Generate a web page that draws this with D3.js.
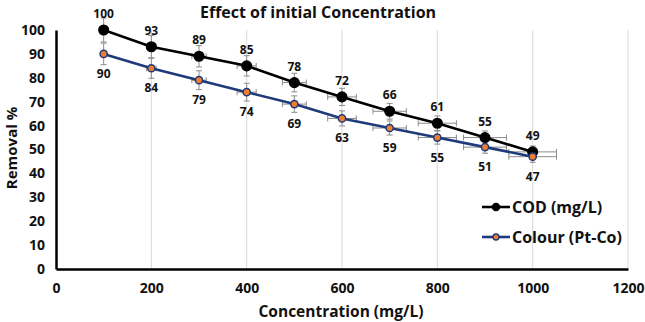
<!DOCTYPE html>
<html><head><meta charset="utf-8">
<script src="https://cdn.jsdelivr.net/npm/d3@7/dist/d3.min.js"></script>
<style>body{margin:0;background:#fff}svg{display:block}text{font-family:"Open Sans",sans-serif;font-weight:bold;fill:#111}</style>
</head><body>
<script>
const concentration = [100,200,300,400,500,600,700,800,900,1000];
const codRemoval = [100,93,89,85,78,72,66,61,55,49];
const colourRemoval = [90,84,79,74,69,63,59,55,51,47];
const seriesNames = ["COD (mg/L)","Colour (Pt-Co)"];
const xTicks = [0,200,400,600,800,1000,1200];
const yTicks = [0,10,20,30,40,50,60,70,80,90,100];
const errFrac = 0.05;

const W=645,H=322;
const svg=d3.select("body").append("svg").attr("width",W).attr("height",H);
const x=d3.scaleLinear().domain([0,1200]).range([56,628]);
const y=d3.scaleLinear().domain([0,100]).range([269,30]);

// vertical grid
svg.append("g").selectAll("line").data(xTicks.slice(1)).join("line")
  .attr("x1",d=>x(d)).attr("x2",d=>x(d)).attr("y1",y(0)).attr("y2",y(100))
  .attr("stroke","#d9d9d9").attr("stroke-width",1);

// axes
const xa=svg.append("g").attr("transform",`translate(0,${y(0)})`)
  .call(d3.axisBottom(x).tickValues(xTicks).tickFormat(d3.format("d")).tickSize(0).tickPadding(14));
xa.select(".domain").attr("stroke","#000").attr("stroke-width",2.5);
xa.selectAll("text").style("font-size","14px").attr("fill","#111");
const ya=svg.append("g").attr("transform",`translate(${x(0)},0)`)
  .call(d3.axisLeft(y).tickValues(yTicks).tickSize(0).tickPadding(11));
ya.select(".domain").attr("stroke","#000").attr("stroke-width",2.5);
ya.selectAll("text").style("font-size","14px").attr("fill","#111");

// titles
svg.append("text").attr("x",318).attr("y",18).attr("text-anchor","middle").style("font-size","16px").text("Effect of initial Concentration");
svg.append("text").attr("x",341).attr("y",317).attr("text-anchor","middle").style("font-size","15.5px").text("Concentration (mg/L)");
svg.append("text").attr("transform","translate(17,148) rotate(-90)").attr("text-anchor","middle").style("font-size","15px").text("Removal %");

const series=[
  {name:seriesNames[0],vals:codRemoval,line:"#000",fill:"#000",stroke:"#000",r:4.8,dy:-12},
  {name:seriesNames[1],vals:colourRemoval,line:"#1f3a7a",fill:"#ed7d31",stroke:"#1f3a7a",r:3.6,dy:24}
];

// error bars
const eg=svg.append("g").attr("stroke","#8c8c8c").attr("stroke-width",1);
series.forEach(s=>{
  concentration.forEach((c,i)=>{
    const v=s.vals[i], ex=c*errFrac, ev=v*errFrac;
    eg.append("line").attr("x1",x(c)).attr("x2",x(c)).attr("y1",y(v-ev)).attr("y2",y(v+ev));
    eg.append("line").attr("x1",x(c)-3).attr("x2",x(c)+3).attr("y1",y(v-ev)).attr("y2",y(v-ev));
    eg.append("line").attr("x1",x(c)-3).attr("x2",x(c)+3).attr("y1",y(v+ev)).attr("y2",y(v+ev));
    eg.append("line").attr("x1",x(c-ex)).attr("x2",x(c+ex)).attr("y1",y(v)).attr("y2",y(v));
    eg.append("line").attr("x1",x(c-ex)).attr("x2",x(c-ex)).attr("y1",y(v)-3).attr("y2",y(v)+3);
    eg.append("line").attr("x1",x(c+ex)).attr("x2",x(c+ex)).attr("y1",y(v)-3).attr("y2",y(v)+3);
  });
});

const line=d3.line().x((d,i)=>x(concentration[i])).y(d=>y(d));
series.forEach(s=>{
  svg.append("path").datum(s.vals).attr("d",line).attr("fill","none").attr("stroke",s.line).attr("stroke-width",2.6);
  svg.append("g").selectAll("circle").data(s.vals).join("circle")
    .attr("cx",(d,i)=>x(concentration[i])).attr("cy",d=>y(d)).attr("r",s.r)
    .attr("fill",s.fill).attr("stroke",s.stroke).attr("stroke-width",1.5);
  svg.append("g").selectAll("text").data(s.vals).join("text")
    .attr("x",(d,i)=>x(concentration[i])).attr("y",d=>y(d)+s.dy)
    .attr("text-anchor","middle").style("font-size","12px").text(d=>d);
});

// legend
const lg=svg.append("g");
series.forEach((s,i)=>{
  const ly=207+i*30;
  lg.append("line").attr("x1",482).attr("x2",510).attr("y1",ly).attr("y2",ly).attr("stroke",s.line).attr("stroke-width",2.6);
  lg.append("circle").attr("cx",496).attr("cy",ly).attr("r",i?3:3.6).attr("fill",s.fill).attr("stroke",s.stroke).attr("stroke-width",1.3);
  lg.append("text").attr("x",512).attr("y",ly+6).style("font-size","16px").attr("fill","#111").text(s.name);
});
</script>
</body></html>
